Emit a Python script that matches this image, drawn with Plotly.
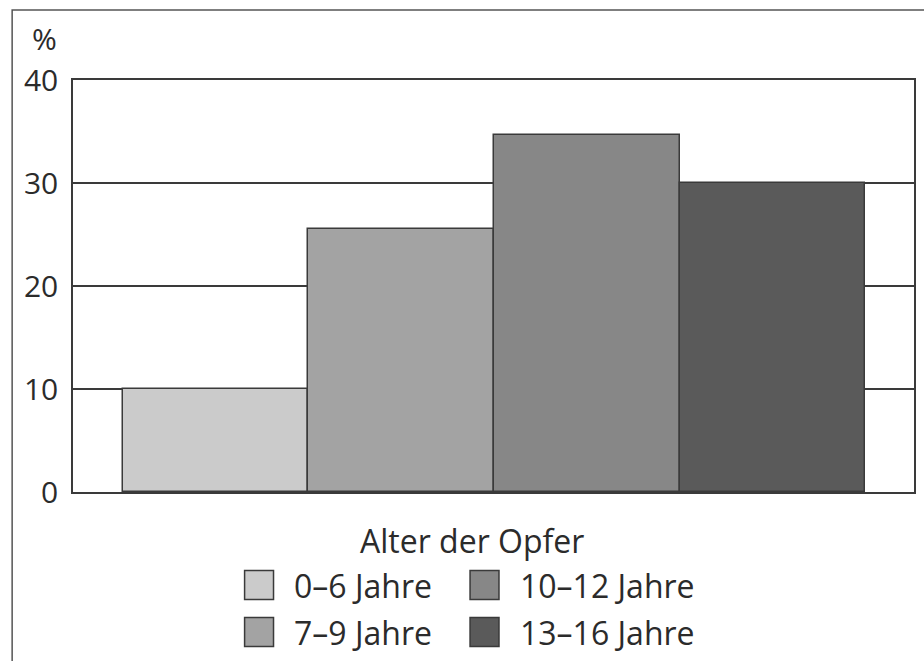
import plotly.graph_objects as go

categories = ["0–6 Jahre", "7–9 Jahre", "10–12 Jahre", "13–16 Jahre"]
values = [10.0, 25.5, 34.7, 30.0]
colors = ["#cbcbcb", "#a3a3a3", "#878787", "#5a5a5a"]
y_ticks = [0, 10, 20, 30, 40]
legend_title = "Alter der Opfer"
y_unit = "%"

W, H = 924, 661
L, R, T, B = 73, 8, 80, 169
pw, ph = W - L - R, H - T - B

def px_x(x):
    return (x - L) / pw

def px_y(y):
    return (H - B - y) / ph

FONT = "Open Sans"
INK = "#2b2b2b"

fig = go.Figure()
fig.add_trace(go.Bar(
    x=categories, y=values,
    marker=dict(color=colors, line=dict(color="#3a3a3a", width=1.5)),
    width=1.0, showlegend=False, hoverinfo="x+y",
))

fig.update_layout(
    width=W, height=H,
    margin=dict(l=L, r=R, t=T, b=B, pad=0),
    paper_bgcolor="white", plot_bgcolor="white",
    bargap=0,
    font=dict(family=FONT, color=INK),
    xaxis=dict(
        range=[-0.769, 3.763], showticklabels=False, ticks="",
        showgrid=False, zeroline=False,
        showline=True, mirror=True, linecolor="#3a3a3a", linewidth=1.5,
    ),
    yaxis=dict(
        range=[0, 40], tickvals=y_ticks, ticks="", ticklabelstandoff=7,
        tickfont=dict(size=30, color=INK, family=FONT),
        showgrid=True, gridcolor="#3a3a3a", gridwidth=1.5,
        zeroline=False,
        showline=True, mirror=True, linecolor="#3a3a3a", linewidth=1.5,
    ),
)

# outer frame of the figure
fig.add_shape(type="rect", xref="paper", yref="paper",
              x0=px_x(12), x1=px_x(940), y0=px_y(680), y1=px_y(10),
              line=dict(color="#555555", width=1.5), fillcolor="rgba(0,0,0,0)",
              layer="below")

# unit label
fig.add_annotation(text=y_unit, xref="paper", yref="paper",
                   x=px_x(44), y=px_y(39), showarrow=False,
                   font=dict(size=30, color=INK, family=FONT),
                   xanchor="center", yanchor="middle")

# legend title
fig.add_annotation(text=legend_title, xref="paper", yref="paper",
                   x=px_x(473), y=px_y(540), showarrow=False,
                   font=dict(size=32, color=INK, family=FONT),
                   xanchor="center", yanchor="middle")

# legend items (2 columns x 2 rows)
col_sq = [245, 471]
row_y = [585, 632]
sq = 29
for i, (name, c) in enumerate(zip(categories, colors)):
    col, row = i // 2, i % 2
    x0 = col_sq[col]
    yc = row_y[row]
    fig.add_shape(type="rect", xref="paper", yref="paper",
                  x0=px_x(x0), x1=px_x(x0 + sq),
                  y0=px_y(yc + sq / 2), y1=px_y(yc - sq / 2),
                  fillcolor=c, line=dict(color="#3a3a3a", width=1.5))
    fig.add_annotation(text=name, xref="paper", yref="paper",
                       x=px_x(x0 + sq + 19), y=px_y(yc), showarrow=False,
                       font=dict(size=32, color=INK, family=FONT),
                       xanchor="left", yanchor="middle")

fig.write_html("out.html",
               config={"displayModeBar": False},
               post_script="document.body.style.margin='0';document.body.style.overflow='hidden';")
